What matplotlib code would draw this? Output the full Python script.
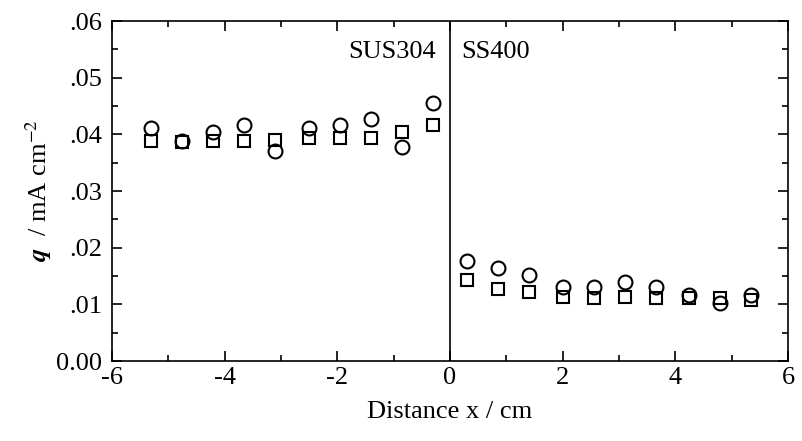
import matplotlib.pyplot as plt
import numpy as np

plt.rcParams['font.family'] = ['Liberation Serif', 'DejaVu Serif']
plt.rcParams['mathtext.fontset'] = 'stix'
plt.rcParams['axes.unicode_minus'] = False

# measurement positions along the joint (cm)
x_sus = [-5.3, -4.75, -4.2, -3.65, -3.1, -2.5, -1.95, -1.4, -0.85, -0.3]
x_ss = [0.3, 0.85, 1.4, 2.0, 2.55, 3.1, 3.65, 4.25, 4.8, 5.35]

# circles
q_circ_sus = [0.0412, 0.0388, 0.0405, 0.0416, 0.0370, 0.0411, 0.0416, 0.0428, 0.0378, 0.0456]
q_circ_ss = [0.0177, 0.0164, 0.0152, 0.0131, 0.0131, 0.0140, 0.0130, 0.0116, 0.0102, 0.0116]
# squares
q_sq_sus = [0.0389, 0.0387, 0.0389, 0.0389, 0.0390, 0.0393, 0.0393, 0.0393, 0.0405, 0.0416]
q_sq_ss = [0.0143, 0.0128, 0.0122, 0.0113, 0.0112, 0.0113, 0.0111, 0.0111, 0.0111, 0.0108]

xticks = [-6, -4, -2, 0, 2, 4, 6]
xlabels = ['-6', '-4', '-2', '0', '2', '4', '6']
yticks = [0.0, 0.01, 0.02, 0.03, 0.04, 0.05, 0.06]
ylabels = ['0.00', '.01', '.02', '.03', '.04', '.05', '.06']

fs = 19

fig = plt.figure(figsize=(8.02, 4.41), dpi=100)
ax = fig.add_axes([0.1397, 0.1814, 0.8428, 0.7706])

mk = dict(linestyle='none', markerfacecolor='none', markeredgecolor='black', markeredgewidth=1.5)
ax.plot(x_sus + x_ss, q_circ_sus + q_circ_ss, marker='o', markersize=10, **mk)
ax.plot(x_sus + x_ss, q_sq_sus + q_sq_ss, marker='s', markersize=8.5, **mk)

ax.axvline(0, color='black', linewidth=1.2)
ax.text(-0.25, 0.0545, 'SUS304', ha='right', va='center', fontsize=fs)
ax.text(0.2, 0.0545, 'SS400', ha='left', va='center', fontsize=fs)

ax.set_xlim(-6, 6)
ax.set_ylim(0, 0.06)
ax.set_xticks(xticks)
ax.set_xticklabels(xlabels)
ax.set_xticks(np.arange(-5, 6, 2), minor=True)
ax.set_yticks(yticks)
ax.set_yticklabels(ylabels)
ax.set_yticks(np.arange(0.005, 0.06, 0.01), minor=True)
ax.tick_params(which='both', direction='in', top=True, right=True, labelsize=fs, width=1.2)
ax.tick_params(which='major', length=7)
ax.tick_params(which='minor', length=4)
ax.tick_params(axis='y', pad=7)
ax.tick_params(axis='x', pad=4)
for s in ax.spines.values():
    s.set_linewidth(1.2)

ax.set_xlabel('Distance x / cm', fontsize=fs, labelpad=9)
ax.set_ylabel(r'$\boldsymbol{q}$  / mA cm$^{-2}$', fontsize=fs, labelpad=2)

fig.savefig('out.png', dpi=100)
